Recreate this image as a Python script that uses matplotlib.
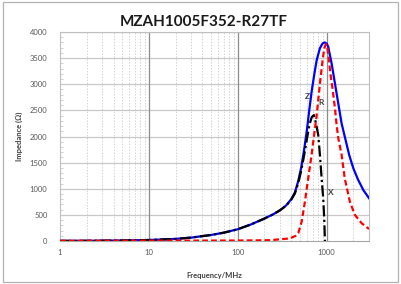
import matplotlib
matplotlib.use("Agg")
import matplotlib.pyplot as plt
from matplotlib.patches import Rectangle
from matplotlib.ticker import FixedLocator, NullFormatter, MultipleLocator

title = "MZAH1005F352-R27TF"
xlabel = "Frequency/MHz"
ylabel = "Impedance (Ω)"

# Z (impedance magnitude)
z_freq = [1, 2, 5, 10, 20, 30, 50, 70, 100, 140, 200, 250, 300, 350, 400, 440, 480, 520,
          560, 600, 640, 680, 730, 773, 841, 900, 950, 1000, 1042, 1138, 1240, 1351, 1475,
          1600, 1800, 2000, 2265, 2600, 3000]
z_val = [2, 4, 10, 19, 40, 65, 115, 160, 225, 315, 430, 510, 590, 680, 800, 930, 1150, 1420,
         1760, 2120, 2520, 2870, 3210, 3460, 3690, 3780, 3800, 3780, 3720, 3400, 3020, 2640, 2250,
         2000, 1640, 1390, 1170, 970, 820]

# R (resistance)
r_freq = [1, 10, 100, 230, 387, 450, 480, 524, 570, 621, 678, 720, 770, 810, 850, 900,
          940, 982, 1020, 1060, 1100, 1170, 1240, 1300, 1360, 1475, 1600, 1830, 2080,
          2480, 3000]
r_val = [4, 6, 9, 15, 50, 100, 150, 370, 750, 1200, 1650, 2000, 2380, 2740, 3080, 3450,
         3680, 3770, 3700, 3480, 3220, 2900, 2550, 2200, 1950, 1650, 1200, 750, 500,
         340, 230]

# X (reactance)
x_freq = [1, 2, 5, 10, 20, 30, 50, 70, 100, 140, 200, 250, 300, 350, 400, 440, 480, 520,
          560, 600, 640, 680, 720, 760, 805, 841, 879, 916, 940, 958]
x_val = [2, 4, 10, 19, 40, 65, 115, 160, 225, 315, 430, 510, 590, 675, 790, 910, 1110, 1360,
         1650, 1950, 2220, 2370, 2410, 2250, 2030, 1650, 1200, 820, 430, 0]

curve_labels = ["Z", "R", "X"]
label_pos = [(611, 2760), (863, 2660), (1117, 930)]

tick_x = [1, 10, 100, 1000]
tick_x_labels = ["1", "10", "100", "1000"]
tick_y = [0, 500, 1000, 1500, 2000, 2500, 3000, 3500, 4000]

FONT = "Lato"
plt.rcParams['font.family'] = [FONT, 'DejaVu Sans']

fig = plt.figure(figsize=(4.01, 2.84), dpi=100)
fig.patch.set_facecolor("white")
fig.patches.append(Rectangle((3 / 401, 1 - 281.5 / 284), 394.5 / 401, 279.5 / 284,
                             transform=fig.transFigure, fill=False,
                             edgecolor="#b3b3b3", linewidth=0.9))

ax = fig.add_axes([60 / 401, 1 - 241 / 284, 309 / 401, 209 / 284])
ax.set_xscale("log")
ax.set_xlim(1, 3000)
ax.set_ylim(0, 4000)

# grid
minor = [m * 10 ** d for d in range(0, 4) for m in range(2, 10) if m * 10 ** d < 3000]
for v in minor:
    ax.axvline(v, color="#d4d4d4", lw=0.7, ls=(0, (1.5, 1.5)), zorder=0)
for v in tick_x[1:]:
    ax.axvline(v, color="#8c8c8c", lw=0.9, zorder=0.5)
for v in tick_y[1:]:
    ax.axhline(v, color="#c8c8c8", lw=0.9, zorder=0.4)

ax.plot(z_freq, z_val, color="#0000ff", lw=1.6, zorder=3, solid_joinstyle="round")
ax.plot(x_freq, x_val, color="#000000", lw=1.6, ls=(0, (5, 1.5, 1, 1.5)), zorder=4)
ax.plot(r_freq, r_val, color="#ff0000", lw=1.6, ls=(0, (2.6, 1.4)), zorder=5)

for lab, (fx, fy) in zip(curve_labels, label_pos):
    ax.text(fx, fy, lab, fontsize=6, color="#404040", ha="center", va="center",
            fontweight="bold", zorder=6)

ax.xaxis.set_major_locator(FixedLocator(tick_x))
ax.set_xticklabels(tick_x_labels)
ax.xaxis.set_minor_formatter(NullFormatter())
ax.xaxis.set_minor_locator(FixedLocator([]))
ax.set_yticks(tick_y)
ax.yaxis.set_minor_locator(MultipleLocator(100))
ax.tick_params(axis="both", which="major", length=0, labelsize=5.5, labelcolor="#595959")
ax.tick_params(axis="x", pad=6)
ax.tick_params(axis="y", pad=9)
ax.tick_params(axis="y", which="minor", direction="in", length=2, color="#c8c8c8", width=0.6)

for s in ["top", "right", "left"]:
    ax.spines[s].set_color("#bfbfbf")
    ax.spines[s].set_linewidth(0.8)
ax.spines["bottom"].set_color("#a6a6a6")
ax.spines["bottom"].set_linewidth(0.8)

ax.set_xlabel(xlabel, fontsize=5.5, fontweight="bold", color="#404040", labelpad=8)
ax.set_ylabel(ylabel, fontsize=5.5, fontweight="bold", color="#404040", labelpad=8)
ax.yaxis.set_label_coords(-0.12, 0.5)
ax.xaxis.set_label_coords(0.5, -0.15)

fig.text(204 / 401, 1 - 22.5 / 284, title, fontsize=11, fontweight="bold",
         color="#1a1a1a", ha="center", va="center")

fig.savefig("out.png", dpi=100, facecolor="white")
